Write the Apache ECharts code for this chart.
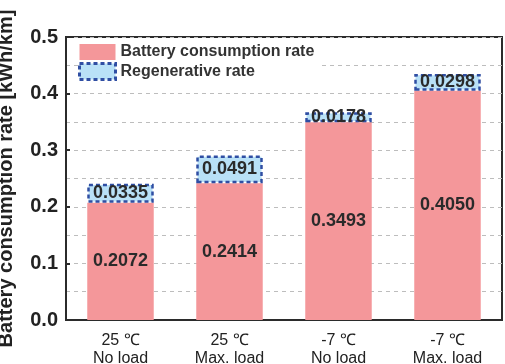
<!DOCTYPE html>
<html><head><meta charset="utf-8">
<script src="https://cdn.jsdelivr.net/npm/echarts@6/dist/echarts.min.js"></script>
<style>html,body{margin:0;padding:0;background:#fff}#c{width:505px;height:364px}</style>
</head><body><div id="c"></div>
<script>
const categories = ['25 ℃\nNo load', '25 ℃\nMax. load', '-7 ℃\nNo load', '-7 ℃\nMax. load'];
const consumption = [0.2072, 0.2414, 0.3493, 0.4050];
const regenerative = [0.0335, 0.0491, 0.0178, 0.0298];
const yTicks = [0, 0.1, 0.2, 0.3, 0.4, 0.5];

const chart = echarts.init(document.getElementById('c'));
const FONT = '"Liberation Sans", Arial, sans-serif';
chart.setOption({
  animation: false,
  textStyle: { fontFamily: FONT },
  grid: { left: 66, right: 3, top: 37, bottom: 44, show: true, borderColor: '#2b2b2b', borderWidth: 2,
    backgroundColor: 'transparent', containLabel: false, outerBoundsMode: 'none' },
  legend: {
    left: 78, top: 44, orient: 'vertical', itemWidth: 36, itemHeight: 16, itemGap: 2,
    icon: 'rect',
    backgroundColor: '#fff', padding: [0, 4, 0, 0],
    textStyle: { fontFamily: FONT, fontSize: 16, fontWeight: 'bold', color: '#333' },
    data: [
      { name: 'Battery consumption rate' },
      { name: 'Regenerative rate', itemStyle: { color: '#b9e1f7', borderColor: '#2f4ea3', borderWidth: 3, borderType: [4, 3] } }
    ]
  },
  xAxis: {
    type: 'category', data: categories,
    axisLine: { show: true, lineStyle: { color: '#2b2b2b', width: 2 } },
    axisTick: { show: false },
    axisLabel: { fontFamily: FONT, fontSize: 16, color: '#222', lineHeight: 18, margin: 12 }
  },
  yAxis: {
    type: 'value', min: 0, max: 0.5, interval: 0.1,
    name: 'Battery consumption rate [kWh/km]', nameLocation: 'middle', nameGap: 50,
    nameTextStyle: { fontFamily: FONT, fontSize: 20, fontWeight: 'bold', color: '#222' },
    axisLine: { show: true, lineStyle: { color: '#2b2b2b', width: 2 } },
    axisTick: { show: true, inside: true, length: 4, lineStyle: { color: '#2b2b2b', width: 2 } },
    axisLabel: { fontFamily: FONT, fontSize: 20, fontWeight: 'bold', color: '#222', margin: 8,
      formatter: v => { const t = yTicks.find(x => Math.abs(x - v) < 1e-9); return t === undefined ? '' : t.toFixed(1); } },
    splitLine: { show: true, lineStyle: { color: '#bdbdbd', type: [4, 4], width: 1 } },
    minorTick: { show: false, splitNumber: 2 },
    minorSplitLine: { show: true, lineStyle: { color: '#bdbdbd', type: [4, 4], width: 1 } }
  },
  series: [
    {
      name: 'Battery consumption rate', type: 'bar', stack: 'a', barWidth: '61%',
      data: consumption,
      itemStyle: { color: '#f4979a' },
      label: { show: true, position: 'inside', formatter: p => p.value.toFixed(4),
        fontFamily: FONT, fontSize: 18, fontWeight: 'bold', color: '#2a2a2a' },
      z: 2
    },
    {
      name: 'Regenerative rate', type: 'bar', stack: 'a',
      data: regenerative,
      itemStyle: { color: '#b9e1f7', borderColor: '#2f4ea3', borderWidth: 2.5, borderType: [4, 3] },
      label: { show: true, position: 'inside', formatter: p => p.value.toFixed(4),
        fontFamily: FONT, fontSize: 18, fontWeight: 'bold', color: '#2a2a2a' },
      z: 3
    }
  ]
});
</script></body></html>
